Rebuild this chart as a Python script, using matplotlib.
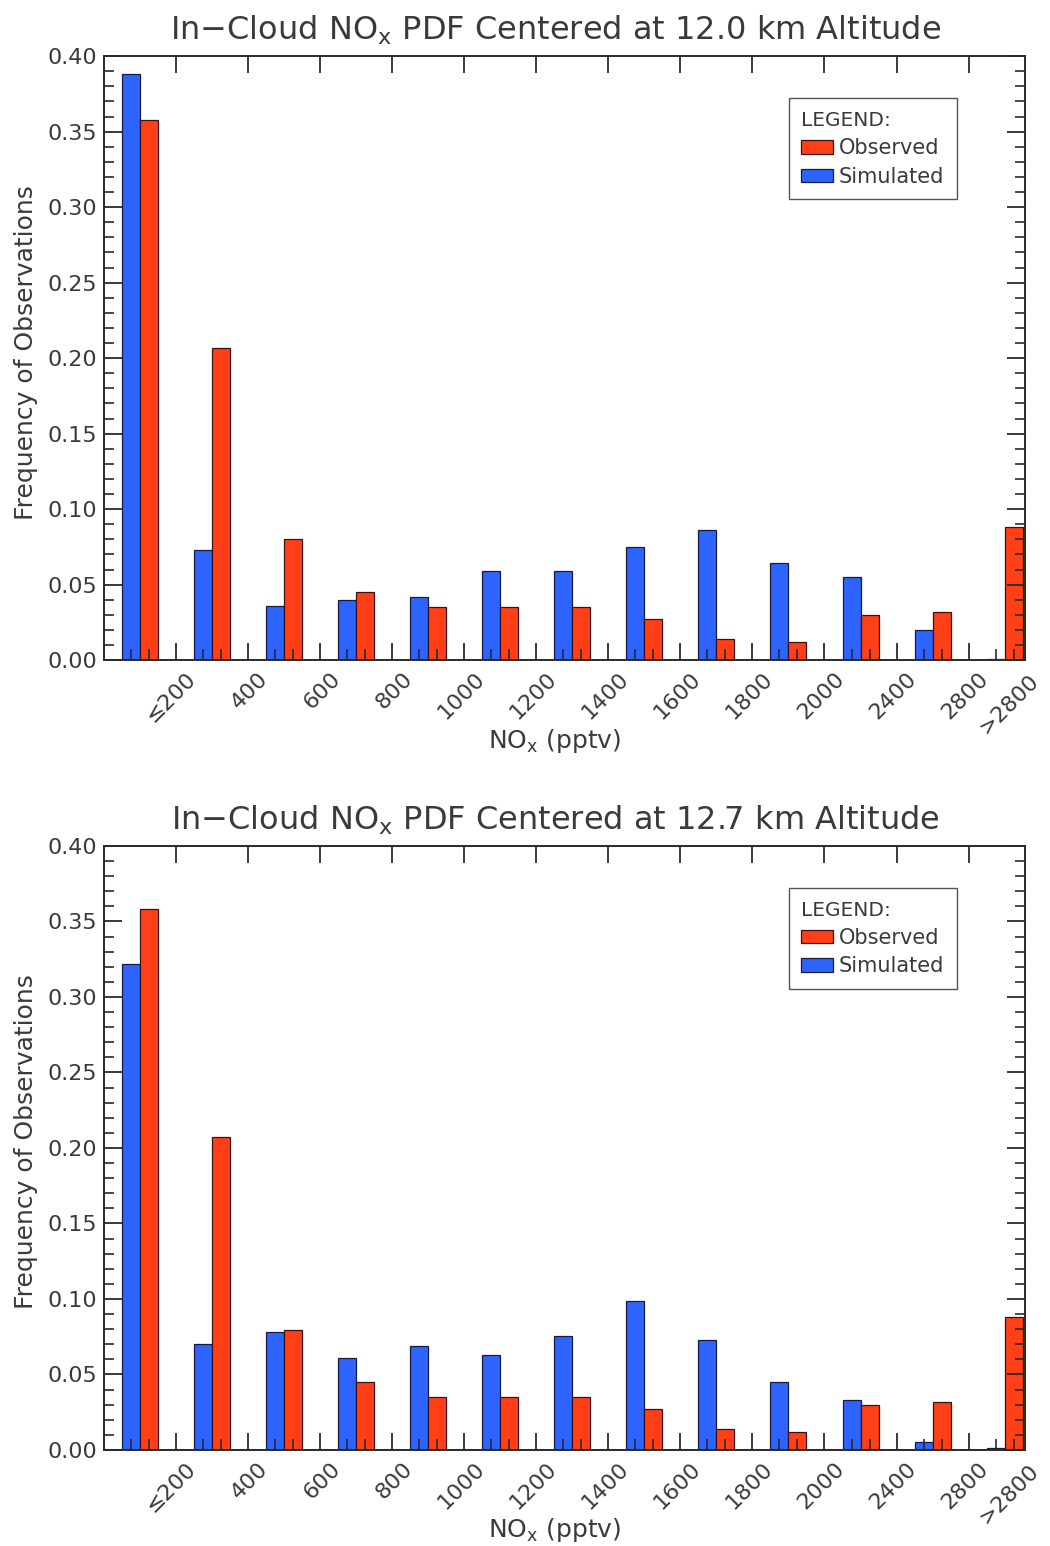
"""
    In-cloud NOx PDFs, observed vs simulated
"""
import numpy as np
import matplotlib
matplotlib.use("Agg")
from matplotlib import pyplot as plt
from matplotlib.transforms import ScaledTranslation, blended_transform_factory
from matplotlib.ticker import MultipleLocator, FixedLocator

bins = ["\u2264200", "400", "600", "800", "1000", "1200", "1400", "1600",
        "1800", "2000", "2400", "2800", ">2800"]

# panel 1: 12.0 km
obs_12_0 = [0.358, 0.207, 0.080, 0.045, 0.035, 0.035, 0.035, 0.027,
            0.014, 0.012, 0.030, 0.032, 0.088]
sim_12_0 = [0.388, 0.073, 0.036, 0.040, 0.042, 0.059, 0.059, 0.075,
            0.086, 0.064, 0.055, 0.020, 0.001]

# panel 2: 12.7 km
obs_12_7 = [0.358, 0.207, 0.0795, 0.045, 0.035, 0.035, 0.035, 0.027,
            0.014, 0.012, 0.030, 0.032, 0.088]
sim_12_7 = [0.322, 0.0705, 0.078, 0.061, 0.069, 0.063, 0.0755, 0.0986,
            0.073, 0.045, 0.033, 0.005, 0.001]

altitudes = ["12.0", "12.7"]

RED = "#ff4016"
BLUE = "#2d64ff"
TXT = "#3a3a3a"
AXC = "#2a2a2a"

plt.rcParams["font.family"] = ["DejaVu Sans"]
plt.rcParams["mathtext.default"] = "regular"


def draw_panel(fig, rect, obs, sim, alt):
    ax = fig.add_axes(rect)
    x = np.arange(len(bins))
    w = 0.25
    ax.bar(x - w / 2, sim, width=w, color=BLUE, edgecolor="#1a1a40",
           linewidth=0.9, label="Simulated")
    ax.bar(x + w / 2, obs, width=w, color=RED, edgecolor="#401010",
           linewidth=0.9, label="Observed")

    ax.set_xlim(-0.5, 12.28)
    ax.set_ylim(0, 0.40)

    for s in ax.spines.values():
        s.set_color(AXC)
        s.set_linewidth(1.4)

    # y axis: majors every 0.05, minors every 0.01, both sides
    ax.yaxis.set_major_locator(MultipleLocator(0.05))
    ax.yaxis.set_minor_locator(MultipleLocator(0.01))
    ax.yaxis.set_major_formatter(matplotlib.ticker.FormatStrFormatter("%.2f"))
    ax.tick_params(axis="y", which="major", direction="in", length=13,
                   width=1.3, color=AXC, left=True, right=True,
                   labelsize=16, labelcolor=TXT, pad=5)
    ax.tick_params(axis="y", which="minor", direction="in", length=7,
                   width=1.2, color=AXC, left=True, right=True)

    # x axis: majors at bin edges, minors at bar centres (bottom only)
    ax.set_xticks(x[:-1] + 0.5)
    ax.set_xticklabels(bins[:-1])
    ax.xaxis.set_minor_locator(FixedLocator(np.concatenate([x - w / 2, x + w / 2])))
    ax.tick_params(axis="x", which="major", direction="in", length=12.5,
                   width=1.3, color=AXC, top=True, bottom=True,
                   labelsize=16, labelcolor=TXT, pad=6)
    ax.tick_params(axis="x", which="minor", direction="in", length=8,
                   width=1.2, color=AXC, top=False, bottom=True)

    off = ScaledTranslation(0.10, 0, fig.dpi_scale_trans)
    for lab in ax.get_xticklabels():
        lab.set_rotation(45)
        lab.set_ha("right")
        lab.set_va("top")
        lab.set_rotation_mode("anchor")
        lab.set_transform(lab.get_transform() + off)

    # last bin label sits past the right edge
    tr = blended_transform_factory(ax.transData, ax.transAxes)
    ax.text(x[-1] + 0.5, 0, bins[-1],
            transform=tr + ScaledTranslation(-0.12, -0.10, fig.dpi_scale_trans),
            rotation=45, ha="right", va="top", rotation_mode="anchor",
            fontsize=16, color=TXT, clip_on=False)

    ax.set_title("In\u2212Cloud NO$_x$ PDF Centered at %s km Altitude" % alt,
                 fontsize=23, color=TXT, pad=12, x=0.49)
    ax.set_xlabel("NO$_x$ (pptv)", fontsize=18, color=TXT)
    ax.xaxis.set_label_coords(0.49, -0.11)
    ax.set_ylabel("Frequency of Observations", fontsize=18, color=TXT)
    ax.yaxis.set_label_coords(-0.072, 0.51)

    h, l = ax.get_legend_handles_labels()
    leg = ax.legend(h[::-1], l[::-1], title="LEGEND:", loc="upper right",
                    bbox_to_anchor=(0.926, 0.93), borderaxespad=0,
                    fontsize=15, title_fontsize=14.5, alignment="left",
                    fancybox=False, framealpha=1, edgecolor="#555555",
                    handlelength=1.5, handleheight=0.6, handletextpad=0.3,
                    borderpad=0.6, labelspacing=0.4)
    leg.get_frame().set_linewidth(1.0)
    for t in leg.get_texts():
        t.set_color(TXT)
    leg.get_title().set_color(TXT)
    return ax


fig = plt.figure(figsize=(10.5, 15.46), dpi=100)
draw_panel(fig, [0.099, 0.573, 0.877, 0.3907], obs_12_0, sim_12_0, altitudes[0])
draw_panel(fig, [0.099, 0.0621, 0.877, 0.3907], obs_12_7, sim_12_7, altitudes[1])
fig.savefig("out.png", dpi=100)
